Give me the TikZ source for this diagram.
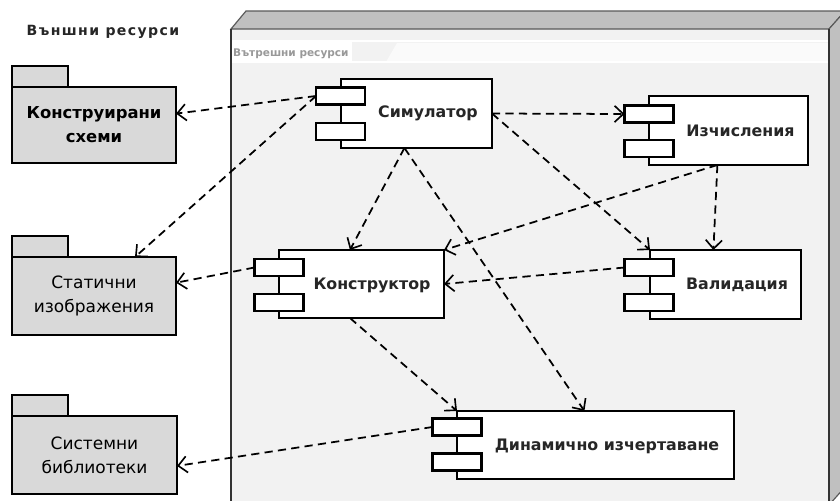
\documentclass[tikz,border=0pt]{standalone}
\usepackage{fontspec}
\setmainfont{DejaVu Sans}
\usetikzlibrary{arrows.meta,calc}
\definecolor{facegray}{HTML}{F2F2F2}
\definecolor{bandgray}{HTML}{C0C0C0}
\definecolor{pkgfill}{HTML}{D9D9D9}
\definecolor{edgegray}{HTML}{5A5A5A}
\newcommand\pxl{0.03cm}
\begin{document}
\begin{tikzpicture}[x=0.03cm,y=-0.03cm,
  pkgbody/.style={draw=black, line width=1.9pt, fill=pkgfill, inner sep=0pt, outer sep=0pt,
    align=center, font=\fontsize{14.5}{20.5}\selectfont, text=black},
  pkgtab/.style={draw=black, line width=1.9pt, fill=pkgfill, inner sep=0pt, outer sep=0pt},
  compbody/.style={draw=black, line width=1.9pt, fill=white, inner sep=0pt, outer sep=0pt},
  port/.style={draw=black, line width=2pt, fill=white, inner sep=0pt, outer sep=0pt,
    minimum width=49*\pxl, minimum height=17*\pxl},
  complabel/.style={font=\bfseries\fontsize{13.5}{16}\selectfont, inner sep=0pt, text=black!85},
  dep/.style={line width=1.5pt, dash pattern=on 7pt off 4.5pt,
    -{Straight Barb[length=7.5pt,width=14pt,line width=1.4pt]}}
]
\useasboundingbox (0,0) rectangle (840,500);
\clip (0,0) rectangle (840,500);
\fill[white] (0,0) rectangle (840,500);

% ---- container (3D box) ----
\fill[facegray] (231,29) rectangle (829,510);
\filldraw[fill=bandgray, draw=edgegray, line width=1pt] (231,29) -- (246,11) -- (845,11) -- (829,29) -- cycle;
\filldraw[fill=bandgray, draw=edgegray, line width=1pt] (829,29) -- (845,11) -- (845,487) -- (829,505) -- cycle;
\fill[white] (231,41) rectangle (352,62);
\fill[white!60!facegray] (386,62) -- (397,43) -- (829,43) -- (829,62) -- cycle;
\draw[white, line width=1pt] (231,41) -- (829,41);
\draw[white, line width=1pt] (231,62) -- (829,62);
\draw[black!80, line width=1.3pt] (231,29) -- (231,510);
\draw[black!80, line width=1.3pt] (829,29) -- (829,510);
\node[font=\bfseries\fontsize{9}{10}\selectfont, text=black!40, anchor=west, inner sep=0pt] (inner) at (233,54) {Вътрешни ресурси};

% ---- title ----
\node[font=\bfseries\fontsize{12}{14}\selectfont\addfontfeature{LetterSpace=10}, text=black!85, inner sep=0pt] (title) at (103,32) {Външни ресурси};

% ---- packages ----
\node[pkgtab, minimum width=56*\pxl, minimum height=21*\pxl] (pk1tab) at (40,76.5) {};
\node[pkgbody, minimum width=164*\pxl, minimum height=76*\pxl, font=\bfseries\fontsize{14}{20.5}\selectfont] (pk1) at (94,125) {Конструирани\\схеми};
\node[pkgtab, minimum width=56*\pxl, minimum height=21*\pxl] (pk2tab) at (40,246.5) {};
\node[pkgbody, minimum width=164*\pxl, minimum height=78*\pxl] (pk2) at (94,296) {Статични\\изображения};
\node[pkgtab, minimum width=56*\pxl, minimum height=21*\pxl] (pk3tab) at (40,405.5) {};
\node[pkgbody, minimum width=165*\pxl, minimum height=78*\pxl] (pk3) at (94.5,455) {Системни\\библиотеки};

% ---- components ----
% Симулатор
\node[compbody, minimum width=151*\pxl, minimum height=69*\pxl] (sim) at (416.5,113.5) {};
\node[port] (simA) at (340.5,96) {};
\node[port] (simB) at (340.5,131.5) {};
\node[complabel] (simL) at (428,113) {Симулатор};
% Изчисления
\node[compbody, minimum width=159*\pxl, minimum height=69*\pxl] (izc) at (728.5,130.5) {};
\node[port] (izcA) at (649,114) {};
\node[port] (izcB) at (649,148.5) {};
\node[complabel] (izcL) at (740.5,131) {Изчисления};
% Валидация
\node[compbody, minimum width=151*\pxl, minimum height=69*\pxl] (val) at (725.5,284.5) {};
\node[port] (valA) at (649,267.5) {};
\node[port] (valB) at (649,302.5) {};
\node[complabel] (valL) at (737,285) {Валидация};
% Конструктор
\node[compbody, minimum width=165*\pxl, minimum height=68*\pxl] (kon) at (361.5,284) {};
\node[port] (konA) at (279,267.5) {};
\node[port] (konB) at (279,302.5) {};
\node[complabel] (konL) at (372,285) {Конструктор};
% Динамично изчертаване
\node[compbody, minimum width=277*\pxl, minimum height=68*\pxl] (din) at (595.5,445) {};
\node[port] (dinA) at (457,427) {};
\node[port] (dinB) at (457,462) {};
\node[complabel] (dinL) at (607,446) {Динамично изчертаване};

% ---- dependencies ----
\draw[dep] (simA.west) -- ($(pk1.north east)!0.35!(pk1.south east)$);
\draw[dep] (simA.west) -- ($(pk2.north west)!0.75!(pk2.north east)$);
\draw[dep] ($(sim.south west)!0.42!(sim.south east)$) -- ($(kon.north west)!0.43!(kon.north east)$);
\draw[dep] ($(sim.south west)!0.42!(sim.south east)$) -- ($(din.north west)!0.46!(din.north east)$);
\draw[dep] (sim.east) -- (izcA.west);
\draw[dep] (sim.east) -- (val.north west);
\draw[dep] ($(izc.south west)!0.43!(izc.south east)$) -- ($(val.north west)!0.42!(val.north east)$);
\draw[dep] ($(izc.south west)!0.43!(izc.south east)$) -- (kon.north east);
\draw[dep] (valA.west) -- (kon.east);
\draw[dep] (konA.west) -- ($(pk2.north east)!0.33!(pk2.south east)$);
\draw[dep] ($(kon.south west)!0.43!(kon.south east)$) -- (din.north west);
\draw[dep] (dinA.west) -- ($(pk3.north east)!0.64!(pk3.south east)$);
\end{tikzpicture}
\end{document}
